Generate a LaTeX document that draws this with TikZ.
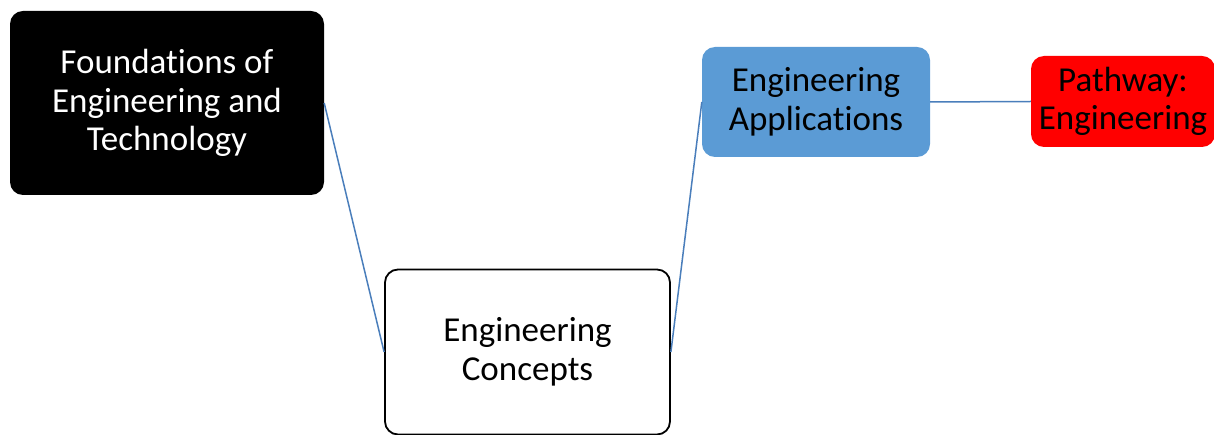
\documentclass[tikz,border=0pt]{standalone}
\usepackage{fontspec}
\setmainfont[RawFeature={-liga;-clig;-calt;-dlig}]{Carlito}
% keep "t" and "i" as separate glyphs
\newcommand{\tisep}{t\kern0pt i}
\begin{document}
\begin{tikzpicture}[x=1pt,y=-1pt,
  box/.style={rounded corners=13pt, inner sep=0pt, align=center,
    font=\fontsize{35}{38.5}\selectfont},
  link/.style={draw=linkblue, line width=1.5pt}]
\definecolor{linkblue}{HTML}{4A7EBB}
\definecolor{appblue}{HTML}{5B9BD5}
\useasboundingbox (0,0) rectangle (1214,435);
% topic boxes
\node[box, fill=black, text=white, minimum width=314pt, minimum height=184pt]
  (found) at (167,103) {Founda\tisep ons of\\Engineering and\\Technology};
\node[box, draw=black, line width=1.8pt, fill=white, text=black,
  minimum width=285pt, minimum height=165pt]
  (concepts) at (527.5,352) {Engineering\\Concepts};
\node[box, fill=appblue, text=black, minimum width=228pt, minimum height=110pt]
  (apps) at (816,102) {Engineering\\Applica\tisep ons};
\node[box, fill=red, text=black, minimum width=184pt, minimum height=91pt]
  (path) at (1123,101.5) {Pathway:\\Engineering};
% links between topics
\draw[link] (found.east) -- (concepts.west);
\draw[link] (concepts.east) -- (apps.west);
\draw[link] (apps.east) -- (path.west);
\end{tikzpicture}
\end{document}
